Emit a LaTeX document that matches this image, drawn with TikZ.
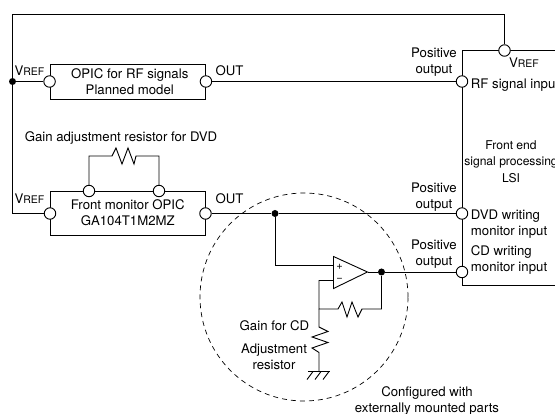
\documentclass[tikz,border=0pt]{standalone}
\usepackage{fontspec}
\setmainfont{TeX Gyre Heros}
\newcommand{\vrefname}{V{\fontsize{10.5}{12}\selectfont REF}}
\tikzset{
	box/.style={rectangle,draw=black,minimum width=155.5pt,inner sep=0pt,align=center,font=\fontsize{13.2}{16}\selectfont},
	port/.style={circle,draw=black,fill=white,minimum size=11.5pt,inner sep=0pt},
	junction/.style={circle,fill=black,minimum size=7pt,inner sep=0pt},
	txt/.style={inner sep=0pt,align=center,yshift=-0.8pt,font=\fontsize{13.2}{16}\selectfont},
	txtl/.style={txt,align=left,anchor=west}
}
\begin{document}
\begin{tikzpicture}[x=1pt,y=-1pt,line width=0.9pt,line join=miter]
		\useasboundingbox (0,0) rectangle (555,414);
		% LSI
		\coordinate (lsia) at (555,50.5);
		\coordinate (lsib) at (462,50.5);
		\coordinate (lsic) at (462,285);
		\coordinate (lsid) at (555,285);
		\draw (lsia) -- (lsib) -- (lsic) -- (lsid);
		\node[port] (lsiv) at (504.5,50.5) {};
		\node[port] (lsirf) at (462,81.5) {};
		\node[port] (lsidvd) at (462,213.5) {};
		\node[port] (lsicd) at (462,272) {};
		% OPICs
		\node[box,minimum height=35pt] (opicrf) at (127.75,81.5) {\hspace*{4pt}OPIC for RF signals\\\hspace*{4pt}Planned model};
		\node[port] (rfv) at (opicrf.west) {};
		\node[port] (rfout) at (opicrf.east) {}
			edge[-] (lsirf);
		\node[box,minimum height=44pt] (opicfm) at (127.75,213) {Front monitor OPIC\\GA104T1M2MZ};
		\node[port] (fmv) at (50,213.5) {};
		\node[port] (fmout) at (205.5,213.5) {};
		\node[port] (fma) at (89,191) {};
		\node[port] (fmb) at (159,191) {};
		\node[junction] (jv) at (12.5,81.5) {}
			edge[-] (rfv);
		\coordinate (topa) at (12.5,14);
		\coordinate (topb) at (504.5,14);
		\draw (fmv) -| (topa) -- (topb) -- (lsiv);
		% gain resistor for DVD
		\coordinate (ra) at (112,156);
		\coordinate (rb) at (136,156);
		\draw (fma) |- (ra) -- ++(4,-8) -- ++(6,16) -- ++(6,-16) -- ++(6,16) -- (rb) -| (fmb);
		% op amp
		\node[junction] (jin) at (275,213.5) {};
		\draw (fmout) -- (jin) -- (lsidvd);
		\coordinate (opa) at (333.5,256.5);
		\coordinate (opb) at (333.5,288.5);
		\coordinate (opc) at (367.5,272);
		\coordinate (opp) at (333.5,265.5);
		\coordinate (opm) at (333.5,280.5);
		\draw (opa) -- (opb) -- (opc) -- cycle;
		\node[txt,font=\fontsize{11}{11}\selectfont] (plus) at (339.5,266) {+};
		\node[txt,font=\fontsize{11}{11}\selectfont] (minus) at (339.5,279) {\textminus};
		\node[junction] (jout) at (381.5,272) {};
		\draw (opc) -- (jout) -- (lsicd);
		\draw (jin) |- (opp);
		% feedback and gain
		\coordinate (fba) at (319,280.5);
		\coordinate (fbb) at (319,309);
		\coordinate (fbc) at (338,309);
		\coordinate (fbd) at (362,309);
		\coordinate (gnd) at (319,371.5);
		\draw (opm) -- (fba) -- (fbb) -- (fbc) -- ++(4,-7) -- ++(5,15) -- ++(5,-15) -- ++(6,15) -- (fbd) -| (jout);
		\draw (fbb) -- (319,327) -- ++(9,4.5) -- ++(-16,5.5) -- ++(16,5.5) -- ++(-16,5.5) -- ++(7,4.5) -- (gnd);
		\draw (308,371.5) -- (330,371.5);
		\foreach \x in {313,321,329}
			\draw (\x,371.5) -- ++(-6,8);
		% externally mounted parts
		\node[circle,draw=black,dash pattern=on 5pt off 4pt,line width=0.7pt,minimum size=208pt,inner sep=0pt] (ext) at (304,297) {};
		% labels
		\node[txt] (vreflsi) at (524,62) {\vrefname};
		\node[txt] (vrefrf) at (29.5,70) {\vrefname};
		\node[txt] (vreffm) at (29.5,198) {\vrefname};
		\node[txt] (outrf) at (229.5,70) {OUT};
		\node[txt] (outfm) at (229.5,198) {OUT};
		\node[txt] (posrf) at (434,61.5) {Positive\\output};
		\node[txt] (posdvd) at (434,196) {Positive\\output};
		\node[txt] (poscd) at (434,253) {Positive\\output};
		\node[txtl] (rfinput) at (470.5,84.5) {RF signal input};
		\node[txtl] (dvdinput) at (470.5,223) {DVD writing\\monitor input};
		\node[txtl] (cdinput) at (470.5,259) {CD writing\\monitor input};
		\node[txt,font=\fontsize{12.1}{16.5}\selectfont] (lsiname) at (511,160.5) {Front end\\signal processing\\LSI};
		\node[txt] (gaindvd) at (121,137) {Gain adjustment resistor for DVD};
		\node[txt] (gaincd) at (274.5,324.5) {Gain for CD};
		\node[txt] (adjres) at (274,356) {Adjustment\\resistor};
		\node[txt] (config) at (427,400) {Configured with\\externally mounted parts};
	\end{tikzpicture}
\end{document}
